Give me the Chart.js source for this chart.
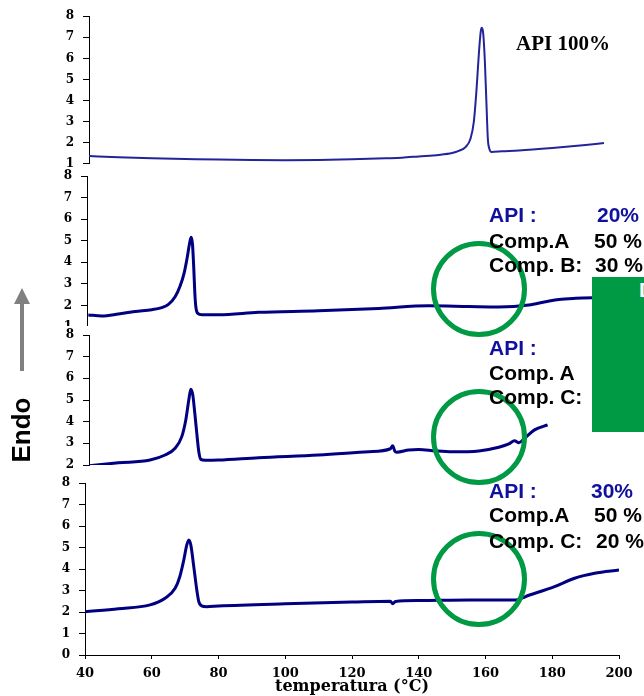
<!DOCTYPE html>
<html>
<head>
<meta charset="utf-8">
<script src="https://cdn.jsdelivr.net/npm/chart.js@4/dist/chart.umd.min.js"></script>
<style>
    body { margin: 0; background: #fff; overflow: hidden; }
    #wrap { position: relative; width: 644px; height: 696px; overflow: hidden; }
    #wrap canvas { position: absolute; left: 0; top: 0; }
    .txt { position: absolute; white-space: nowrap; font: bold 21px "Liberation Sans", Arial, sans-serif; line-height: 21px; color: #000; }
    .api { color: #10109e; }
    .ring { position: absolute; width: 96px; height: 96px; box-sizing: border-box; border: 5px solid #009944; border-radius: 50%; }
</style>
</head>
<body>
<div id="wrap">
    <canvas id="p1" width="644" height="696"></canvas>
    <canvas id="p2" width="644" height="696"></canvas>
    <canvas id="p3" width="644" height="696"></canvas>
    <canvas id="p4" width="644" height="696"></canvas>

    <!-- green box on the right (covers part of panel 2/3) -->
    <div style="position:absolute;left:592px;top:277px;width:60px;height:155px;background:#009944;"></div>
    <div class="txt" style="left:639px;top:279px;color:#fff;">D</div>

    <div class="ring" style="left:431px;top:241px;"></div>
    <div class="ring" style="left:431px;top:389px;"></div>
    <div class="ring" style="left:431px;top:531px;"></div>

    <div class="txt" style="left:516px;top:33px;font-family:'Liberation Serif','Times New Roman',serif;">API 100%</div>

    <div class="txt api" style="left:489px;top:204px;">API :</div>
    <div class="txt api" style="left:597px;top:204px;">20%</div>
    <div class="txt" style="left:489px;top:230px;">Comp.A</div>
    <div class="txt" style="left:594px;top:230px;">50 %</div>
    <div class="txt" style="left:489px;top:254px;">Comp. B:</div>
    <div class="txt" style="left:595px;top:254px;">30 %</div>

    <div class="txt api" style="left:489px;top:337px;">API :</div>
    <div class="txt" style="left:489px;top:362px;">Comp. A</div>
    <div class="txt" style="left:489px;top:386px;">Comp. C:</div>

    <div class="txt api" style="left:489px;top:480px;">API :</div>
    <div class="txt api" style="left:591px;top:480px;">30%</div>
    <div class="txt" style="left:489px;top:504px;">Comp.A</div>
    <div class="txt" style="left:594px;top:504px;">50 %</div>
    <div class="txt" style="left:489px;top:530px;">Comp. C:</div>
    <div class="txt" style="left:596px;top:530px;">20 %</div>

    <!-- Endo arrow -->
    <div style="position:absolute;left:14px;top:288px;width:0;height:0;border-left:8px solid transparent;border-right:8px solid transparent;border-bottom:16px solid #808080;"></div>
    <div style="position:absolute;left:20px;top:303px;width:4px;height:68px;background:#808080;"></div>
    <div class="txt" style="left:-12px;top:417px;font-size:26px;line-height:26px;transform:rotate(-90deg);">Endo</div>
</div>

<script>
// DSC curves, heat flow (x = temperature in °C)
const xTicks = [40, 60, 80, 100, 120, 140, 160, 180, 200];

// API 100%
const api100Temp = [41, 50, 60, 70, 80, 90, 100, 110, 120, 130, 135, 140, 146, 150, 152, 154, 155.5, 156.5, 157.3, 158, 158.6, 158.9, 159.3, 159.8, 160.3, 160.7, 161.2, 161.8, 165, 170, 180, 190, 195.5];
const api100Heat = [1.38, 1.32, 1.27, 1.24, 1.21, 1.19, 1.18, 1.19, 1.22, 1.27, 1.30, 1.36, 1.43, 1.52, 1.62, 1.80, 2.2, 3.0, 4.5, 6.2, 7.3, 7.45, 7.2, 5.9, 3.8, 2.2, 1.7, 1.57, 1.60, 1.64, 1.76, 1.90, 1.99];

// API 20% / Comp.A 50% / Comp.B 30%
const mixBTemp = [41, 45, 50, 55, 60, 63, 65, 67, 68.5, 69.7, 70.6, 71.3, 71.8, 72.2, 72.6, 72.9, 73.2, 73.8, 75, 80, 92, 110, 128, 143, 155, 164, 173, 178, 182, 187, 195, 200];
const mixBHeat = [1.56, 1.51, 1.60, 1.72, 1.80, 1.90, 2.05, 2.4, 2.9, 3.5, 4.2, 4.85, 5.16, 4.85, 3.7, 2.6, 1.95, 1.63, 1.57, 1.57, 1.68, 1.75, 1.86, 1.98, 1.95, 1.93, 2.02, 2.17, 2.28, 2.33, 2.36, 2.38];

// API ? / Comp. A / Comp. C
const mixC1Temp = [41.2, 50, 59.5, 64, 67, 69, 70.2, 71.1, 71.7, 72.3, 72.9, 73.5, 74.1, 74.7, 76, 80, 92, 110, 125, 131.5, 132.2, 132.8, 133.4, 137, 140, 145, 150, 158, 164, 167, 168.7, 170, 171.7, 174.7, 178.6];
const mixC1Heat = [1.97, 2.10, 2.23, 2.46, 2.77, 3.31, 4.08, 5.0, 5.5, 5.23, 4.39, 3.46, 2.61, 2.26, 2.22, 2.23, 2.34, 2.46, 2.61, 2.75, 2.89, 2.65, 2.59, 2.69, 2.72, 2.65, 2.61, 2.65, 2.82, 2.97, 3.12, 3.03, 3.23, 3.62, 3.85];

// API 30% / Comp.A 50% / Comp.C 20%
const mixC2Temp = [40, 50, 59.5, 64, 67, 68.4, 69.6, 70.5, 71.1, 71.7, 72.6, 73.5, 74.1, 75, 76.5, 80, 100, 120, 131.5, 132.2, 133, 140, 155, 168.7, 173.2, 180.7, 186.7, 192.7, 200];
const mixC2Heat = [2.01, 2.15, 2.33, 2.64, 3.10, 3.64, 4.42, 5.12, 5.35, 5.12, 4.1, 3.02, 2.48, 2.28, 2.25, 2.28, 2.38, 2.46, 2.50, 2.38, 2.49, 2.53, 2.56, 2.56, 2.79, 3.18, 3.57, 3.80, 3.95];

const tickFont = { family: 'DejaVu Serif', weight: 'bold', size: 12 };

function makePanel(id, temps, heat, p) {
    const ctx = document.getElementById(id).getContext('2d');
    const points = temps.map((t, i) => ({ x: t, y: heat[i] }));

    return new Chart(ctx, {
        type: 'line',
        data: {
            datasets: [{
                data: points,
                borderColor: p.color,
                borderWidth: p.width,
                pointRadius: 0,
                cubicInterpolationMode: 'monotone',
                fill: false
            }]
        },
        options: {
            responsive: false,
            animation: false,
            devicePixelRatio: 1,
            layout: { padding: { left: 0, right: 25, top: p.top, bottom: p.bottom } },
            plugins: { legend: { display: false }, tooltip: { enabled: false } },
            scales: {
                x: {
                    type: 'linear',
                    min: p.xMin,
                    max: 200,
                    display: p.showX,
                    afterBuildTicks: s => { s.ticks = xTicks.map(v => ({ value: v })); },
                    // only the bottom panel has a visible x axis
                    afterFit: s => { s.height = p.showX ? 41 : 0; },
                    grid: { drawOnChartArea: false, drawTicks: true, tickLength: 4, color: '#000' },
                    border: { display: true, color: '#000', width: 1 },
                    ticks: { color: '#000', font: { family: 'DejaVu Serif', weight: 'bold', size: 13 }, padding: 7, maxRotation: 0, autoSkip: false },
                    title: {
                        display: true,
                        text: 'temperatura (°C)',
                        color: '#000',
                        font: { family: 'DejaVu Serif', weight: 'bold', size: 16 },
                        padding: { top: 0, bottom: 0 }
                    }
                },
                y: {
                    min: p.min,
                    max: 8,
                    afterFit: s => { s.width = p.left; },
                    grid: { drawOnChartArea: false, drawTicks: true, tickLength: 6, color: '#000' },
                    border: { display: true, color: '#000', width: 1 },
                    ticks: { stepSize: 1, autoSkip: false, color: '#000', font: tickFont, padding: 9 }
                }
            }
        },
        plugins: [{
            // lower panels sit on a white sheet that hides the bottom of the panel above
            id: 'sheet',
            beforeDraw: chart => {
                if (p.coverFrom == null) return;
                const c = chart.ctx;
                c.save();
                c.fillStyle = '#fff';
                c.fillRect(0, p.coverFrom, 120, 8);
                c.restore();
            }
        }]
    });
}

// the upper panels' axes start a few pixels further right, so their range starts a bit later
makePanel('p1', api100Temp, api100Heat, { top: 15, bottom: 532, left: 89, xMin: 41.2, min: 1, color: '#24249a', width: 2, showX: false });
makePanel('p2', mixBTemp, mixBHeat, { top: 176, bottom: 369, left: 87, xMin: 40.6, min: 1, color: '#000080', width: 3, showX: false });
makePanel('p3', mixC1Temp, mixC1Heat, { top: 335, bottom: 231, left: 89, xMin: 41.2, min: 2, color: '#000080', width: 3, showX: false, coverFrom: 326 });
makePanel('p4', mixC2Temp, mixC2Heat, { top: 483, bottom: 0, left: 85, xMin: 40, min: 0, color: '#000080', width: 3, showX: true });
</script>
</body>
</html>
